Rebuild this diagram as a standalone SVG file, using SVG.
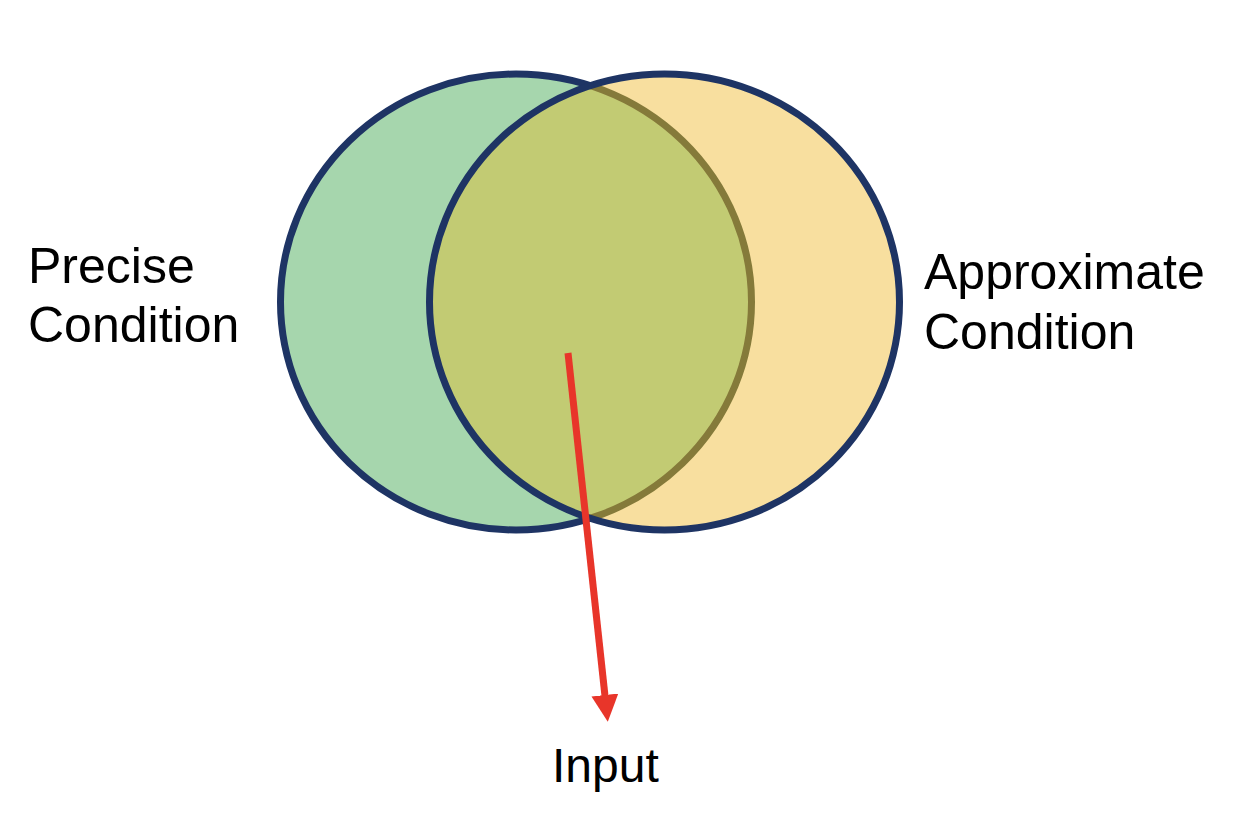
<svg xmlns="http://www.w3.org/2000/svg" width="1244" height="824" viewBox="0 0 1244 824">
  <style>
    .lbl { font-family: "Liberation Sans", Arial, sans-serif; font-size: 50px; fill: #000000; }
    .small { font-size: 48px; }
    .edge { fill: none; stroke: #1E3464; stroke-width: 7; }
  </style>
  <defs>
    <clipPath id="clipRight">
      <ellipse cx="664.5" cy="302" rx="235" ry="228"/>
    </clipPath>
    <marker id="arrow" markerUnits="userSpaceOnUse" markerWidth="28" markerHeight="28" refX="1" refY="13.5" orient="auto">
      <path d="M0,0 L27,13.5 L0,27 Z" fill="#E8352A"/>
    </marker>
  </defs>
  <rect width="1244" height="824" fill="#ffffff"/>

  <g id="precise">
    <ellipse cx="516" cy="302" rx="235.5" ry="228" class="edge" style="fill:#A6D6AD"/>
    <text class="lbl" x="28" y="283">Precise</text>
    <text class="lbl" x="28" y="342">Condition</text>
  </g>

  <g id="approximate">
    <ellipse cx="664.5" cy="302" rx="235" ry="228" fill="#F8DF9F"/>
    <g clip-path="url(#clipRight)">
      <ellipse cx="516" cy="302" rx="235.5" ry="228" fill="#C2CB73"/>
      <ellipse cx="516" cy="302" rx="235.5" ry="228" fill="none" stroke="#857A3A" stroke-width="7"/>
    </g>
    <ellipse cx="664.5" cy="302" rx="235" ry="228" class="edge"/>
    <text class="lbl" x="924" y="289">Approximate</text>
    <text class="lbl" x="924" y="349">Condition</text>
  </g>

  <g id="input">
    <text class="lbl small" x="552" y="782">Input</text>
  </g>

  <g id="connectors">
    <line x1="568" y1="353" x2="605" y2="696" stroke="#E8352A" stroke-width="7" marker-end="url(#arrow)"/>
  </g>
</svg>
